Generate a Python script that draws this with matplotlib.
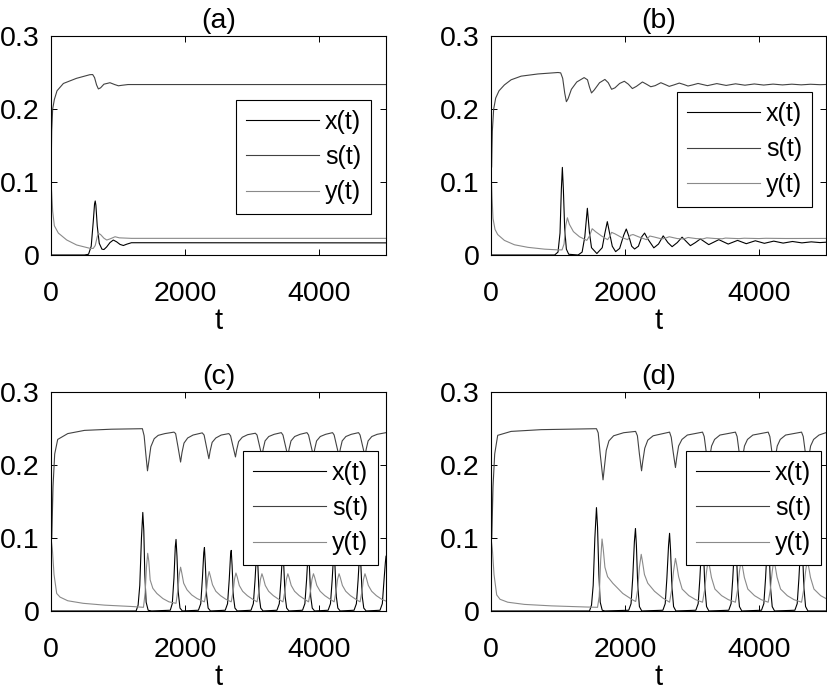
import matplotlib
matplotlib.use("Agg")
import matplotlib.pyplot as plt

plt.rcParams['font.family'] = ['Liberation Sans', 'DejaVu Sans']

# values, (t, value) pairs
labels = ["x(t)", "s(t)", "y(t)"]
titles = ["(a)", "(b)", "(c)", "(d)"]
xticks = [0, 2000, 4000]
yticks = [0, 0.1, 0.2, 0.3]
ytick_labels = ["0", "0.1", "0.2", "0.3"]

# (a)
a_x = [(0, 0), (500, 0), (560, 0.001), (600, 0.012), (630, 0.045), (650, 0.07), (660, 0.074),
       (670, 0.068), (690, 0.04), (720, 0.016), (760, 0.008), (790, 0.0075), (830, 0.011),
       (880, 0.017), (930, 0.0205), (980, 0.018), (1030, 0.0145), (1080, 0.013), (1130, 0.0148),
       (1200, 0.0168), (1300, 0.0168), (5000, 0.0166)]
a_s = [(0, 0.1), (10, 0.17), (25, 0.2), (50, 0.213), (90, 0.225), (185, 0.235), (380, 0.242),
       (580, 0.247), (622, 0.2472), (650, 0.243), (680, 0.233), (707, 0.2275), (740, 0.229),
       (790, 0.234), (880, 0.236), (950, 0.2335), (1006, 0.2318), (1060, 0.2325), (1150, 0.2335),
       (5000, 0.2335)]
a_y = [(0, 0.1), (10, 0.085), (25, 0.06), (50, 0.04), (110, 0.03), (234, 0.0206), (383, 0.0137),
       (583, 0.0091), (630, 0.009), (660, 0.013), (690, 0.025), (707, 0.0297), (740, 0.028),
       (790, 0.023), (832, 0.0205), (880, 0.022), (956, 0.025), (1020, 0.0235), (1200, 0.0228),
       (5000, 0.0228)]

# (b)
b_x = [(0, 0), (950, 0), (1000, 0.004), (1030, 0.03), (1050, 0.09), (1065, 0.12), (1080, 0.09),
       (1100, 0.035), (1125, 0.008), (1160, 0.001), (1300, 0), (1360, 0.004), (1400, 0.025),
       (1438, 0.064), (1470, 0.03), (1500, 0.01), (1580, 0.002), (1660, 0.01), (1700, 0.03),
       (1736, 0.0457), (1770, 0.03), (1810, 0.012), (1860, 0.0046), (1920, 0.009), (1980, 0.027),
       (2019, 0.0356), (2060, 0.025), (2100, 0.012), (2143, 0.0082), (2200, 0.012), (2250, 0.025),
       (2292, 0.030), (2340, 0.022), (2430, 0.0098), (2500, 0.015), (2570, 0.0262), (2640, 0.017),
       (2703, 0.0114), (2780, 0.017), (2852, 0.0244), (2920, 0.018), (2976, 0.0128), (3050, 0.017),
       (3125, 0.022), (3250, 0.0142), (3400, 0.021), (3540, 0.015), (3680, 0.020), (3810, 0.0155),
       (3945, 0.0195), (4080, 0.016), (4220, 0.019), (4360, 0.0163), (4500, 0.0185), (4640, 0.0166),
       (4780, 0.018), (4910, 0.017), (5000, 0.0175)]
b_s = [(0, 0.274), (8, 0.12), (20, 0.17), (40, 0.2), (70, 0.215), (120, 0.225), (200, 0.233),
       (300, 0.24), (450, 0.245), (700, 0.248), (1000, 0.25), (1040, 0.2495), (1070, 0.242),
       (1100, 0.222), (1125, 0.21), (1150, 0.214), (1200, 0.227), (1280, 0.237), (1390, 0.243),
       (1440, 0.24), (1470, 0.23), (1500, 0.222), (1540, 0.226), (1620, 0.236), (1700, 0.2405),
       (1750, 0.236), (1800, 0.227), (1850, 0.229), (1920, 0.235), (1990, 0.238), (2050, 0.234),
       (2110, 0.228), (2170, 0.231), (2260, 0.237), (2320, 0.234), (2385, 0.2305), (2450, 0.232),
       (2535, 0.236), (2600, 0.2335), (2660, 0.231), (2730, 0.233), (2810, 0.2355), (2880, 0.2335),
       (2940, 0.2315), (3010, 0.233), (3090, 0.235), (3230, 0.232), (3370, 0.2348), (3510, 0.2323),
       (3650, 0.2345), (3790, 0.2326), (3930, 0.2343), (4070, 0.2328), (4210, 0.2341),
       (4350, 0.233), (4490, 0.234), (4630, 0.2331), (4770, 0.2339), (4910, 0.2333), (5000, 0.2336)]
b_y = [(0, 0.12), (15, 0.08), (30, 0.05), (60, 0.035), (100, 0.028), (200, 0.02), (350, 0.014),
       (550, 0.0105), (800, 0.008), (1000, 0.007), (1060, 0.007), (1090, 0.015), (1115, 0.04),
       (1140, 0.051), (1170, 0.042), (1230, 0.032), (1320, 0.025), (1430, 0.02), (1470, 0.026),
       (1510, 0.036), (1560, 0.032), (1650, 0.026), (1740, 0.021), (1770, 0.025), (1800, 0.031),
       (1850, 0.029), (1950, 0.024), (2040, 0.021), (2080, 0.027), (2120, 0.028), (2200, 0.025),
       (2320, 0.021), (2370, 0.026), (2420, 0.025), (2550, 0.022), (2600, 0.023), (2660, 0.025),
       (2780, 0.0225), (2880, 0.022), (2940, 0.024), (3060, 0.0225), (3160, 0.022), (3220, 0.0235),
       (3340, 0.0226), (3450, 0.0222), (3500, 0.0232), (3700, 0.0224), (3780, 0.023),
       (4000, 0.0225), (4100, 0.0229), (4400, 0.0226), (5000, 0.0227)]

# (c)
c_x = [(0, 0), (1270, 0), (1300, 0.008), (1325, 0.035), (1350, 0.1), (1370, 0.135), (1385, 0.11),
       (1400, 0.05), (1420, 0.012), (1450, 0.001), (1500, 0),
       (1780, 0.001), (1810, 0.01), (1835, 0.045), (1855, 0.088), (1866, 0.098), (1880, 0.075),
       (1900, 0.025), (1925, 0.004), (1960, 0),
       (2200, 0.001), (2235, 0.01), (2260, 0.045), (2280, 0.08), (2290, 0.087), (2303, 0.065),
       (2322, 0.022), (2345, 0.004), (2380, 0),
       (2600, 0.001), (2635, 0.01), (2660, 0.043), (2680, 0.077), (2690, 0.083), (2703, 0.062),
       (2722, 0.02), (2745, 0.004), (2780, 0),
       (2985, 0.001), (3020, 0.01), (3045, 0.042), (3065, 0.075), (3075, 0.081), (3088, 0.061),
       (3107, 0.02), (3130, 0.004), (3165, 0),
       (3372, 0.001), (3407, 0.01), (3432, 0.042), (3452, 0.074), (3462, 0.08), (3475, 0.06),
       (3494, 0.02), (3517, 0.004), (3552, 0),
       (3754, 0.001), (3789, 0.01), (3814, 0.042), (3834, 0.074), (3844, 0.08), (3857, 0.06),
       (3876, 0.02), (3899, 0.004), (3934, 0),
       (4136, 0.001), (4171, 0.01), (4196, 0.042), (4216, 0.074), (4226, 0.08), (4239, 0.06),
       (4258, 0.02), (4281, 0.004), (4316, 0),
       (4523, 0.001), (4558, 0.01), (4583, 0.042), (4603, 0.074), (4613, 0.08), (4626, 0.06),
       (4645, 0.02), (4668, 0.004), (4703, 0),
       (4910, 0.001), (4945, 0.01), (4970, 0.042), (4990, 0.066), (5000, 0.075)]
c_s = [(0, 0.3), (12, 0.1), (30, 0.17), (55, 0.215), (100, 0.235), (250, 0.243), (500, 0.2474),
       (900, 0.249), (1364, 0.2497), (1390, 0.24), (1415, 0.215), (1440, 0.192), (1460, 0.205),
       (1490, 0.225), (1540, 0.236), (1600, 0.2406), (1700, 0.243), (1835, 0.245), (1860, 0.243),
       (1895, 0.225), (1934, 0.204), (1955, 0.217), (1985, 0.23), (2040, 0.237), (2120, 0.241),
       (2257, 0.244), (2285, 0.241), (2320, 0.225), (2356, 0.2086), (2375, 0.219), (2405, 0.231),
       (2460, 0.237), (2540, 0.241), (2654, 0.243), (2680, 0.24), (2715, 0.226), (2753, 0.211),
       (2772, 0.221), (2800, 0.232), (2855, 0.238), (2935, 0.2415), (3050, 0.2435),
       (3075, 0.241), (3110, 0.227), (3148, 0.212), (3167, 0.222), (3195, 0.233), (3250, 0.239),
       (3330, 0.242), (3437, 0.2443),
       (3462, 0.241), (3497, 0.227), (3535, 0.212), (3554, 0.222), (3582, 0.233), (3637, 0.239),
       (3717, 0.242), (3820, 0.2443),
       (3844, 0.241), (3879, 0.227), (3917, 0.212), (3936, 0.222), (3964, 0.233), (4019, 0.239),
       (4099, 0.242), (4202, 0.2443),
       (4226, 0.241), (4261, 0.227), (4299, 0.212), (4318, 0.222), (4346, 0.233), (4401, 0.239),
       (4481, 0.242), (4590, 0.2443),
       (4613, 0.241), (4648, 0.227), (4686, 0.212), (4705, 0.222), (4733, 0.233), (4788, 0.239),
       (4868, 0.242), (5000, 0.2443)]
c_y = [(0, 0.1), (20, 0.085), (45, 0.05), (85, 0.024), (135, 0.019), (250, 0.014), (480, 0.0105),
       (800, 0.008), (1230, 0.006), (1380, 0.005), (1405, 0.025), (1425, 0.06), (1443, 0.079),
       (1460, 0.068), (1480, 0.0425), (1520, 0.031), (1580, 0.024), (1670, 0.017), (1760, 0.0125),
       (1866, 0.0105), (1895, 0.03), (1915, 0.05), (1934, 0.06), (1950, 0.053), (1980, 0.038),
       (2030, 0.029), (2100, 0.022), (2180, 0.017), (2290, 0.0125),
       (2320, 0.028), (2340, 0.045), (2360, 0.054), (2378, 0.048), (2410, 0.036), (2460, 0.027),
       (2530, 0.021), (2610, 0.016), (2690, 0.0125),
       (2720, 0.028), (2740, 0.044), (2760, 0.052), (2778, 0.047), (2810, 0.035), (2860, 0.027),
       (2930, 0.021), (3010, 0.016), (3075, 0.0125),
       (3105, 0.028), (3125, 0.043), (3148, 0.051), (3166, 0.046), (3198, 0.035), (3248, 0.027),
       (3318, 0.021), (3398, 0.016), (3462, 0.0125),
       (3492, 0.028), (3512, 0.043), (3535, 0.051), (3553, 0.046), (3585, 0.035), (3635, 0.027),
       (3705, 0.021), (3785, 0.016), (3844, 0.0125),
       (3874, 0.028), (3894, 0.043), (3917, 0.051), (3935, 0.046), (3967, 0.035), (4017, 0.027),
       (4087, 0.021), (4167, 0.016), (4226, 0.0125),
       (4256, 0.028), (4276, 0.043), (4299, 0.051), (4317, 0.046), (4349, 0.035), (4399, 0.027),
       (4469, 0.021), (4549, 0.016), (4613, 0.0125),
       (4643, 0.028), (4663, 0.043), (4686, 0.051), (4704, 0.046), (4736, 0.035), (4786, 0.027),
       (4856, 0.021), (4936, 0.016), (5000, 0.0135)]

# (d)
d_x = [(0, 0), (1470, 0), (1500, 0.008), (1525, 0.035), (1550, 0.1), (1574, 0.1416), (1590, 0.115),
       (1610, 0.05), (1630, 0.012), (1660, 0.001), (1700, 0),
       (2055, 0.001), (2090, 0.01), (2115, 0.045), (2140, 0.095), (2156, 0.113), (2170, 0.09),
       (2190, 0.035), (2215, 0.006), (2250, 0),
       (2565, 0.001), (2600, 0.01), (2625, 0.045), (2650, 0.09), (2665, 0.1064), (2680, 0.083),
       (2700, 0.033), (2725, 0.006), (2760, 0),
       (3057, 0.001), (3092, 0.01), (3117, 0.044), (3142, 0.088), (3157, 0.104), (3172, 0.081),
       (3192, 0.032), (3217, 0.006), (3252, 0),
       (3548, 0.001), (3583, 0.01), (3608, 0.044), (3633, 0.087), (3648, 0.103), (3663, 0.08),
       (3683, 0.032), (3708, 0.006), (3743, 0),
       (4037, 0.001), (4072, 0.01), (4097, 0.044), (4122, 0.087), (4137, 0.103), (4152, 0.08),
       (4172, 0.032), (4197, 0.006), (4232, 0),
       (4535, 0.001), (4570, 0.01), (4595, 0.044), (4620, 0.087), (4635, 0.103), (4650, 0.08),
       (4670, 0.032), (4695, 0.006), (4730, 0), (5000, 0)]
d_s = [(0, 0.3), (12, 0.1), (30, 0.17), (55, 0.215), (100, 0.2406), (300, 0.246), (750, 0.2484),
       (1574, 0.2497), (1600, 0.244), (1630, 0.215), (1672, 0.1796), (1690, 0.195), (1720, 0.22),
       (1760, 0.233), (1830, 0.24), (1980, 0.2442), (2158, 0.246), (2185, 0.24), (2215, 0.215),
       (2247, 0.192), (2265, 0.205), (2295, 0.223), (2340, 0.234), (2420, 0.24), (2665, 0.245),
       (2690, 0.238), (2720, 0.217), (2753, 0.1965), (2772, 0.21), (2800, 0.226), (2850, 0.235),
       (2930, 0.241), (3157, 0.245),
       (3182, 0.239), (3212, 0.218), (3247, 0.199), (3265, 0.211), (3292, 0.226), (3337, 0.235),
       (3417, 0.241), (3648, 0.245),
       (3673, 0.239), (3703, 0.218), (3738, 0.199), (3756, 0.211), (3783, 0.226), (3828, 0.235),
       (3908, 0.241), (4137, 0.245),
       (4162, 0.239), (4192, 0.218), (4227, 0.199), (4245, 0.211), (4272, 0.226), (4317, 0.235),
       (4397, 0.241), (4635, 0.245),
       (4660, 0.239), (4690, 0.218), (4725, 0.199), (4743, 0.211), (4770, 0.226), (4815, 0.235),
       (4895, 0.241), (5000, 0.2443)]
d_y = [(0, 0.1), (20, 0.085), (45, 0.05), (85, 0.022), (135, 0.016), (250, 0.012), (500, 0.009),
       (900, 0.007), (1400, 0.0055), (1590, 0.005), (1615, 0.02), (1637, 0.07), (1657, 0.0986),
       (1675, 0.085), (1700, 0.06), (1740, 0.047), (1818, 0.038), (1967, 0.024), (2116, 0.015),
       (2160, 0.013), (2190, 0.03), (2215, 0.06), (2242, 0.0776), (2260, 0.068), (2290, 0.05),
       (2340, 0.038), (2440, 0.027), (2560, 0.018), (2665, 0.012),
       (2695, 0.028), (2725, 0.055), (2753, 0.072), (2770, 0.064), (2800, 0.047), (2853, 0.03),
       (2953, 0.021), (3053, 0.0155), (3157, 0.012),
       (3187, 0.028), (3217, 0.054), (3242, 0.07), (3260, 0.062), (3290, 0.046), (3342, 0.03),
       (3442, 0.021), (3542, 0.0155), (3648, 0.012),
       (3678, 0.028), (3708, 0.054), (3733, 0.07), (3751, 0.062), (3781, 0.046), (3833, 0.03),
       (3933, 0.021), (4033, 0.0155), (4137, 0.012),
       (4167, 0.028), (4197, 0.054), (4222, 0.07), (4240, 0.062), (4270, 0.046), (4322, 0.03),
       (4422, 0.021), (4522, 0.0155), (4635, 0.012),
       (4665, 0.028), (4695, 0.054), (4720, 0.07), (4738, 0.062), (4768, 0.046), (4820, 0.03),
       (4920, 0.021), (5000, 0.017)]

panels = [(a_x, a_s, a_y), (b_x, b_s, b_y), (c_x, c_s, c_y), (d_x, d_s, d_y)]
colors = ["#000000", "#424242", "#8a8a8a"]

# axes boxes in figure fraction (left, bottom, width, height)
boxes = [[0.0616, 0.6331, 0.4046, 0.3151],
         [0.5930, 0.6331, 0.4046, 0.3151],
         [0.0616, 0.1209, 0.4046, 0.3151],
         [0.5930, 0.1209, 0.4046, 0.3151]]
leg_anchor = [(0.955, 0.708), (0.958, 0.744), (0.976, 0.731), (0.985, 0.731)]

fig = plt.figure(figsize=(8.28, 6.95), dpi=100)

for i in range(4):
    ax = fig.add_axes(boxes[i])
    for series, col, lab in zip(panels[i], colors, labels):
        t = [p[0] for p in series]
        v = [p[1] for p in series]
        ax.plot(t, v, color=col, lw=0.8, label=lab)
    ax.set_xlim(0, 5000)
    ax.set_ylim(0, 0.3)
    ax.set_xticks(xticks)
    ax.set_xticklabels([str(x) for x in xticks])
    ax.set_yticks(yticks)
    ax.set_yticklabels(ytick_labels)
    ax.tick_params(direction='in', top=True, right=True, length=4, width=0.7, labelsize=20.5)
    ax.tick_params(axis='x', pad=19)
    ax.tick_params(axis='y', pad=8)
    for sp in ax.spines.values():
        sp.set_linewidth(0.8)
    ax.set_xlabel("t", fontsize=21, labelpad=0)
    ax.set_title(titles[i], fontsize=20.5, pad=6)
    leg = ax.legend(loc='upper right', bbox_to_anchor=leg_anchor[i], borderaxespad=0,
                    fontsize=18, handlelength=2.9, handletextpad=0.25, borderpad=0.4,
                    labelspacing=0.45, fancybox=False, framealpha=1, edgecolor='black')
    leg.get_frame().set_linewidth(0.8)

fig.savefig("out.png", dpi=100)
